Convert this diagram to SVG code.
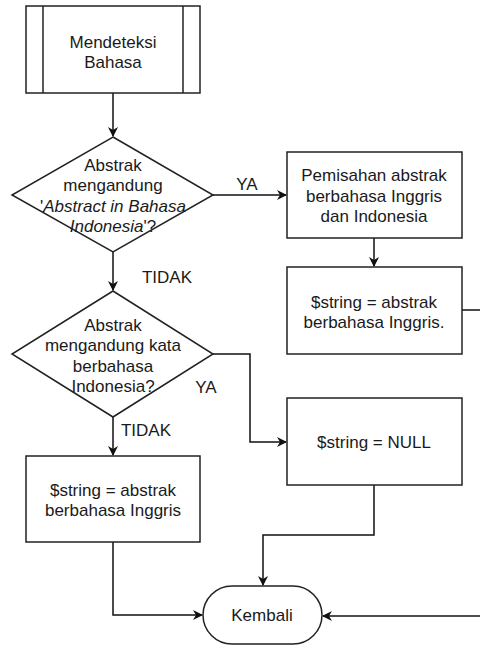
<svg xmlns="http://www.w3.org/2000/svg" width="480" height="645" viewBox="0 0 480 645">
  <style>
    .shape { fill: #ffffff; stroke: #222222; stroke-width: 1.5; }
    .edge { fill: none; stroke: #111111; stroke-width: 1.5; }
    text { font-family: "Liberation Sans", Arial, sans-serif; font-size: 17px; fill: #1a1a1a; text-anchor: middle; }
  </style>
  <defs>
    <marker id="arrow" viewBox="0 0 10 10" refX="9" refY="5" markerWidth="10" markerHeight="10" markerUnits="userSpaceOnUse" orient="auto">
      <path d="M0,0 L10,5 L0,10 L3,5 Z" fill="#111111"/>
    </marker>
  </defs>
  <rect width="480" height="645" fill="#ffffff"/>

  <!-- connectors -->
  <g id="connectors">
    <path class="edge" d="M113,93 V136" marker-end="url(#arrow)"/>
    <path class="edge" d="M213,195 H286" marker-end="url(#arrow)"/>
    <path class="edge" d="M374,238 V266" marker-end="url(#arrow)"/>
    <path class="edge" d="M462,310 H482"/>
    <path class="edge" d="M113,252 V290" marker-end="url(#arrow)"/>
    <path class="edge" d="M213,354 H250 V442 H286" marker-end="url(#arrow)"/>
    <path class="edge" d="M113,417 V455" marker-end="url(#arrow)"/>
    <path class="edge" d="M113,542 V615 H202" marker-end="url(#arrow)"/>
    <path class="edge" d="M374,485 V535 H263 V585" marker-end="url(#arrow)"/>
    <path class="edge" d="M482,616 H323" marker-end="url(#arrow)"/>
    <text x="247" y="190">YA</text>
    <text x="167" y="283">TIDAK</text>
    <text x="206" y="393">YA</text>
    <text x="146" y="436">TIDAK</text>
  </g>

  <!-- predefined process -->
  <g id="detect">
    <rect class="shape" x="26" y="6" width="174" height="87"/>
    <line class="shape" x1="43" y1="6" x2="43" y2="93"/>
    <line class="shape" x1="183" y1="6" x2="183" y2="93"/>
    <text x="113" y="48">Mendeteksi</text>
    <text x="113" y="68">Bahasa</text>
  </g>

  <g id="decision1">
    <polygon class="shape" points="113,137 213,195 113,252 12,195"/>
    <text x="113" y="171">Abstrak</text>
    <text x="113" y="191">mengandung</text>
    <text x="113" y="212">'<tspan font-style="italic">Abstract in Bahasa</tspan></text>
    <text x="113" y="232"><tspan font-style="italic">Indonesia</tspan>'?</text>
  </g>

  <g id="split">
    <rect class="shape" x="287" y="152" width="175" height="86"/>
    <text x="374" y="181">Pemisahan abstrak</text>
    <text x="374" y="202">berbahasa Inggris</text>
    <text x="374" y="222">dan Indonesia</text>
  </g>

  <g id="assignEnglish1">
    <rect class="shape" x="287" y="267" width="175" height="87"/>
    <text x="374" y="308">$string = abstrak</text>
    <text x="374" y="328">berbahasa Inggris.</text>
  </g>

  <g id="decision2">
    <polygon class="shape" points="113,291 213,354 113,417 12,354"/>
    <text x="113" y="331">Abstrak</text>
    <text x="113" y="351">mengandung kata</text>
    <text x="113" y="372">berbahasa</text>
    <text x="113" y="392">Indonesia?</text>
  </g>

  <g id="assignNull">
    <rect class="shape" x="287" y="398" width="175" height="87"/>
    <text x="374" y="448">$string = NULL</text>
  </g>

  <g id="assignEnglish2">
    <rect class="shape" x="26" y="456" width="174" height="86"/>
    <text x="113" y="496">$string = abstrak</text>
    <text x="113" y="516">berbahasa Inggris</text>
  </g>

  <g id="return">
    <rect class="shape" x="203" y="586" width="119" height="58" rx="29" ry="29"/>
    <text x="262" y="621">Kembali</text>
  </g>
</svg>
